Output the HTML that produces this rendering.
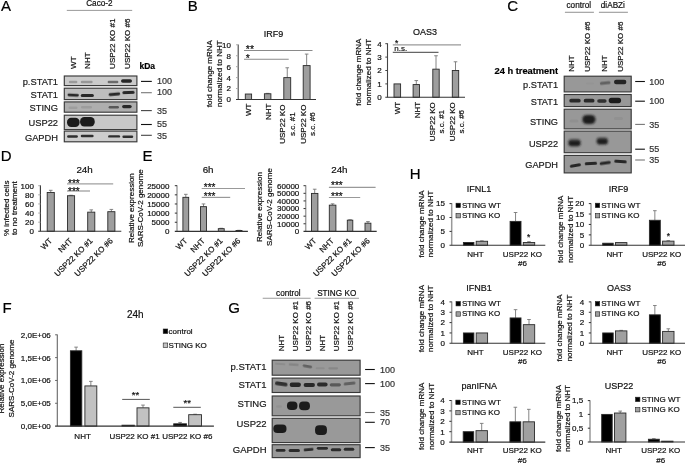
<!DOCTYPE html>
<html><head><meta charset="utf-8"><title>Figure</title>
<style>
html,body{margin:0;padding:0;background:#fff;}
body{width:685px;height:464px;overflow:hidden;}
svg{display:block;font-family:'Liberation Sans', Arial, sans-serif;}
text{stroke:currentColor;stroke-width:0.2px;}
</style></head><body>
<svg width="685" height="464" viewBox="0 0 685 464">
<defs>
<filter id="b3" x="-50%" y="-100%" width="200%" height="300%"><feGaussianBlur stdDeviation="0.3"/></filter>
<filter id="b4" x="-50%" y="-100%" width="200%" height="300%"><feGaussianBlur stdDeviation="0.4"/></filter>
<filter id="b5" x="-50%" y="-100%" width="200%" height="300%"><feGaussianBlur stdDeviation="0.5"/></filter>
<filter id="b6" x="-50%" y="-100%" width="200%" height="300%"><feGaussianBlur stdDeviation="0.6"/></filter>
<filter id="b7" x="-50%" y="-100%" width="200%" height="300%"><feGaussianBlur stdDeviation="0.7"/></filter>
<filter id="b8" x="-50%" y="-100%" width="200%" height="300%"><feGaussianBlur stdDeviation="0.8"/></filter>
<filter id="b9" x="-50%" y="-100%" width="200%" height="300%"><feGaussianBlur stdDeviation="0.9"/></filter>
<filter id="b10" x="-50%" y="-100%" width="200%" height="300%"><feGaussianBlur stdDeviation="1.0"/></filter>
<filter id="b11" x="-50%" y="-100%" width="200%" height="300%"><feGaussianBlur stdDeviation="1.1"/></filter>
<filter id="b12" x="-50%" y="-100%" width="200%" height="300%"><feGaussianBlur stdDeviation="1.2"/></filter>
<filter id="b13" x="-50%" y="-100%" width="200%" height="300%"><feGaussianBlur stdDeviation="1.3"/></filter>
<filter id="b14" x="-50%" y="-100%" width="200%" height="300%"><feGaussianBlur stdDeviation="1.4"/></filter>
<filter id="b15" x="-50%" y="-100%" width="200%" height="300%"><feGaussianBlur stdDeviation="1.5"/></filter>
</defs>
<rect width="685" height="464" fill="#fff"/>
<text x="1.00" y="10.70" font-size="15" fill="#000" color="#000">A</text>
<text x="187.70" y="10.70" font-size="15" fill="#000" color="#000">B</text>
<text x="507.30" y="10.70" font-size="15" fill="#000" color="#000">C</text>
<text x="0.80" y="160.70" font-size="15" fill="#000" color="#000">D</text>
<text x="142.50" y="160.70" font-size="15" fill="#000" color="#000">E</text>
<text x="2.40" y="312.70" font-size="15" fill="#000" color="#000">F</text>
<text x="228.20" y="312.70" font-size="15" fill="#000" color="#000">G</text>
<text x="409.80" y="179.30" font-size="15" fill="#000" color="#000">H</text>
<text x="86.20" y="6.00" font-size="8.2" fill="#111" color="#111">Caco-2</text>
<line x1="66.80" y1="10.40" x2="132.20" y2="10.40" stroke="#9a9a9a" stroke-width="1"/>
<text transform="translate(75.60,68.90) rotate(-90)" font-size="8" fill="#111" color="#111">WT</text>
<text transform="translate(89.90,68.90) rotate(-90)" font-size="8" fill="#111" color="#111">NHT</text>
<text transform="translate(115.40,68.90) rotate(-90)" font-size="8" fill="#111" color="#111">USP22 KO #1</text>
<text transform="translate(130.20,68.90) rotate(-90)" font-size="8" fill="#111" color="#111">USP22 KO #6</text>
<text x="139.50" y="69.00" font-size="8.5" font-weight="bold" fill="#000" color="#000">kDa</text>
<text x="58.00" y="84.70" font-size="9.3" text-anchor="end" fill="#1a1a1a" color="#1a1a1a">p.STAT1</text>
<rect x="64.30" y="76.00" width="72.60" height="9.60" fill="#cbcbcb"/>
<rect x="68.80" y="80.80" width="8.60" height="2.40" rx="1.20" fill="rgb(77,77,77)" opacity="0.38" filter="url(#b6)"/>
<rect x="80.75" y="80.80" width="11.90" height="2.40" rx="1.20" fill="rgb(75,75,75)" opacity="0.40" filter="url(#b6)"/>
<rect x="107.60" y="80.70" width="10.80" height="2.60" rx="1.30" fill="rgb(56,56,56)" opacity="0.65" filter="url(#b6)"/>
<rect x="121.00" y="79.20" width="11.00" height="3.60" rx="1.80" fill="rgb(32,32,32)" opacity="0.97" filter="url(#b6)"/>
<rect x="64.30" y="76.00" width="72.60" height="9.60" fill="none" stroke="#383838" stroke-width="1.15"/>
<text x="58.00" y="98.30" font-size="9.3" text-anchor="end" fill="#1a1a1a" color="#1a1a1a">STAT1</text>
<rect x="64.30" y="88.20" width="72.60" height="11.40" fill="#bebebe"/>
<rect x="67.50" y="93.65" width="11.40" height="2.90" rx="1.45" fill="rgb(33,33,33)" opacity="0.95" filter="url(#b6)" transform="rotate(3 73.20 95.10)"/>
<rect x="80.75" y="94.10" width="13.10" height="3.00" rx="1.50" fill="rgb(33,33,33)" opacity="0.95" filter="url(#b6)"/>
<rect x="108.70" y="92.75" width="11.40" height="2.90" rx="1.45" fill="rgb(33,33,33)" opacity="0.95" filter="url(#b6)" transform="rotate(-5 114.40 94.20)"/>
<rect x="122.35" y="91.00" width="12.30" height="3.00" rx="1.50" fill="rgb(33,33,33)" opacity="0.95" filter="url(#b6)" transform="rotate(-2 128.50 92.50)"/>
<rect x="64.30" y="88.20" width="72.60" height="11.40" fill="none" stroke="#383838" stroke-width="1.15"/>
<text x="58.00" y="110.70" font-size="9.3" text-anchor="end" fill="#1a1a1a" color="#1a1a1a">STING</text>
<rect x="64.30" y="101.90" width="72.60" height="10.30" fill="#aeaeae"/>
<rect x="68.50" y="106.60" width="9.00" height="2.40" rx="1.20" fill="rgb(92,92,92)" opacity="0.18" filter="url(#b6)"/>
<rect x="81.00" y="106.10" width="11.00" height="2.40" rx="1.20" fill="rgb(91,91,91)" opacity="0.20" filter="url(#b6)"/>
<rect x="108.65" y="106.10" width="10.30" height="2.40" rx="1.20" fill="rgb(52,52,52)" opacity="0.70" filter="url(#b6)"/>
<rect x="122.10" y="104.90" width="9.60" height="3.40" rx="1.70" fill="rgb(33,33,33)" opacity="0.95" filter="url(#b6)"/>
<rect x="64.30" y="101.90" width="72.60" height="10.30" fill="none" stroke="#383838" stroke-width="1.15"/>
<text x="58.00" y="125.60" font-size="9.3" text-anchor="end" fill="#1a1a1a" color="#1a1a1a">USP22</text>
<rect x="64.30" y="115.20" width="72.60" height="14.40" fill="#c8c8c8"/>
<rect x="67.00" y="117.70" width="12.60" height="9.20" rx="4.20" fill="rgb(30,30,30)" opacity="1.00" filter="url(#b6)"/>
<rect x="80.10" y="117.10" width="14.60" height="9.40" rx="4.20" fill="rgb(30,30,30)" opacity="1.00" filter="url(#b6)"/>
<rect x="64.30" y="115.20" width="72.60" height="14.40" fill="none" stroke="#383838" stroke-width="1.15"/>
<text x="58.00" y="140.60" font-size="9.3" text-anchor="end" fill="#1a1a1a" color="#1a1a1a">GAPDH</text>
<rect x="64.30" y="131.10" width="72.60" height="10.70" fill="#cdcdcd"/>
<rect x="67.10" y="135.30" width="10.80" height="2.40" rx="1.20" fill="rgb(36,36,36)" opacity="0.92" filter="url(#b6)"/>
<rect x="80.75" y="134.65" width="12.90" height="2.50" rx="1.25" fill="rgb(36,36,36)" opacity="0.92" filter="url(#b6)"/>
<rect x="108.10" y="135.20" width="12.00" height="2.40" rx="1.20" fill="rgb(36,36,36)" opacity="0.92" filter="url(#b6)"/>
<rect x="122.40" y="135.60" width="10.80" height="2.40" rx="1.20" fill="rgb(36,36,36)" opacity="0.92" filter="url(#b6)"/>
<rect x="64.30" y="131.10" width="72.60" height="10.70" fill="none" stroke="#383838" stroke-width="1.15"/>
<line x1="141.00" y1="81.40" x2="151.80" y2="81.40" stroke="#111" stroke-width="1.1"/>
<text x="157.00" y="84.30" font-size="9" fill="#333" color="#333">100</text>
<line x1="141.00" y1="92.70" x2="151.80" y2="92.70" stroke="#777" stroke-width="1.1"/>
<text x="157.00" y="95.30" font-size="9" fill="#333" color="#333">100</text>
<line x1="141.00" y1="110.60" x2="151.80" y2="110.60" stroke="#444" stroke-width="1.1"/>
<text x="157.00" y="113.80" font-size="9" fill="#333" color="#333">35</text>
<line x1="141.00" y1="124.50" x2="151.80" y2="124.50" stroke="#111" stroke-width="1.1"/>
<text x="157.00" y="127.30" font-size="9" fill="#333" color="#333">55</text>
<line x1="141.00" y1="135.30" x2="151.80" y2="135.30" stroke="#444" stroke-width="1.1"/>
<text x="157.00" y="139.40" font-size="9" fill="#333" color="#333">35</text>
<text x="566.50" y="7.90" font-size="8.2" fill="#111" color="#111">control</text>
<text x="600.80" y="7.90" font-size="8.2" fill="#111" color="#111">diABZi</text>
<line x1="564.90" y1="12.30" x2="593.90" y2="12.30" stroke="#9a9a9a" stroke-width="1.1"/>
<line x1="598.90" y1="12.30" x2="627.90" y2="12.30" stroke="#9a9a9a" stroke-width="1.1"/>
<text transform="translate(574.40,71.80) rotate(-90)" font-size="8" fill="#111" color="#111">NHT</text>
<text transform="translate(590.00,71.80) rotate(-90)" font-size="8" fill="#111" color="#111">USP22 KO #6</text>
<text transform="translate(606.70,71.80) rotate(-90)" font-size="8" fill="#111" color="#111">NHT</text>
<text transform="translate(623.00,71.80) rotate(-90)" font-size="8" fill="#111" color="#111">USP22 KO #6</text>
<text x="494.50" y="74.30" font-size="9.3" font-weight="bold" fill="#000" color="#000">24 h treatment</text>
<text x="558.00" y="88.00" font-size="9.2" text-anchor="end" fill="#1a1a1a" color="#1a1a1a">p.STAT1</text>
<rect x="564.20" y="76.20" width="67.00" height="15.70" fill="#989898"/>
<rect x="586.00" y="82.40" width="8.00" height="2.20" rx="1.10" fill="rgb(101,101,101)" opacity="0.07" filter="url(#b6)"/>
<rect x="599.90" y="81.50" width="10.60" height="3.00" rx="1.50" fill="rgb(60,60,60)" opacity="0.60" filter="url(#b7)" transform="rotate(-6 605.20 83.00)"/>
<rect x="614.00" y="79.80" width="12.40" height="4.40" rx="2.20" fill="rgb(32,32,32)" opacity="0.97" filter="url(#b6)"/>
<rect x="564.20" y="76.20" width="67.00" height="15.70" fill="none" stroke="#383838" stroke-width="1.15"/>
<text x="558.00" y="104.60" font-size="9.2" text-anchor="end" fill="#1a1a1a" color="#1a1a1a">STAT1</text>
<rect x="564.20" y="94.50" width="67.00" height="12.10" fill="#989898"/>
<rect x="569.30" y="98.80" width="11.40" height="3.80" rx="1.90" fill="rgb(35,35,35)" opacity="0.93" filter="url(#b6)"/>
<rect x="583.70" y="98.80" width="10.80" height="3.80" rx="1.90" fill="rgb(35,35,35)" opacity="0.93" filter="url(#b6)"/>
<rect x="597.20" y="99.20" width="9.40" height="3.60" rx="1.80" fill="rgb(37,37,37)" opacity="0.90" filter="url(#b6)"/>
<rect x="608.70" y="97.80" width="12.40" height="5.40" rx="2.60" fill="rgb(30,30,30)" opacity="1.00" filter="url(#b6)"/>
<rect x="564.20" y="94.50" width="67.00" height="12.10" fill="none" stroke="#383838" stroke-width="1.15"/>
<text x="558.00" y="125.20" font-size="9.2" text-anchor="end" fill="#1a1a1a" color="#1a1a1a">STING</text>
<rect x="564.20" y="109.20" width="67.00" height="19.70" fill="#989898"/>
<rect x="569.50" y="119.40" width="9.00" height="3.20" rx="1.60" fill="rgb(96,96,96)" opacity="0.13" filter="url(#b6)"/>
<rect x="582.40" y="114.90" width="13.00" height="9.20" rx="4.20" fill="rgb(30,30,30)" opacity="1.00" filter="url(#b8)"/>
<rect x="614.00" y="116.90" width="9.00" height="3.20" rx="1.60" fill="rgb(97,97,97)" opacity="0.12" filter="url(#b6)"/>
<rect x="564.20" y="109.20" width="67.00" height="19.70" fill="none" stroke="#383838" stroke-width="1.15"/>
<text x="558.00" y="146.90" font-size="9.2" text-anchor="end" fill="#1a1a1a" color="#1a1a1a">USP22</text>
<rect x="564.20" y="131.10" width="67.00" height="21.60" fill="#989898"/>
<rect x="568.40" y="139.70" width="12.20" height="6.60" rx="3.00" fill="rgb(30,30,30)" opacity="1.00" filter="url(#b8)"/>
<rect x="596.70" y="137.90" width="11.20" height="6.60" rx="3.00" fill="rgb(30,30,30)" opacity="1.00" filter="url(#b8)"/>
<rect x="569.00" y="138.50" width="11.00" height="3.00" rx="1.50" fill="rgb(83,83,83)" opacity="0.30" filter="url(#b10)"/>
<rect x="597.30" y="137.00" width="10.00" height="3.00" rx="1.50" fill="rgb(83,83,83)" opacity="0.30" filter="url(#b10)"/>
<rect x="564.20" y="131.10" width="67.00" height="21.60" fill="none" stroke="#383838" stroke-width="1.15"/>
<text x="558.00" y="167.90" font-size="9.2" text-anchor="end" fill="#1a1a1a" color="#1a1a1a">GAPDH</text>
<rect x="564.20" y="155.40" width="67.00" height="17.50" fill="#989898"/>
<rect x="569.85" y="164.10" width="11.10" height="3.00" rx="1.50" fill="rgb(33,33,33)" opacity="0.95" filter="url(#b6)" transform="rotate(-10 575.40 165.60)"/>
<rect x="584.75" y="162.00" width="12.30" height="3.00" rx="1.50" fill="rgb(33,33,33)" opacity="0.95" filter="url(#b6)" transform="rotate(-3 590.90 163.50)"/>
<rect x="599.65" y="161.50" width="11.10" height="3.00" rx="1.50" fill="rgb(33,33,33)" opacity="0.95" filter="url(#b6)" transform="rotate(-8 605.20 163.00)"/>
<rect x="614.25" y="159.90" width="12.50" height="3.00" rx="1.50" fill="rgb(33,33,33)" opacity="0.95" filter="url(#b6)" transform="rotate(4 620.50 161.40)"/>
<rect x="564.20" y="155.40" width="67.00" height="17.50" fill="none" stroke="#383838" stroke-width="1.15"/>
<line x1="635.20" y1="81.50" x2="644.90" y2="81.50" stroke="#111" stroke-width="1.1"/>
<text x="649.30" y="84.70" font-size="9" fill="#333" color="#333">100</text>
<line x1="635.20" y1="101.20" x2="644.90" y2="101.20" stroke="#111" stroke-width="1.1"/>
<text x="649.30" y="104.40" font-size="9" fill="#333" color="#333">100</text>
<line x1="635.20" y1="124.40" x2="644.90" y2="124.40" stroke="#777" stroke-width="1.1"/>
<text x="649.30" y="127.60" font-size="9" fill="#333" color="#333">35</text>
<line x1="635.20" y1="149.20" x2="644.90" y2="149.20" stroke="#111" stroke-width="1.1"/>
<text x="649.30" y="152.40" font-size="9" fill="#333" color="#333">55</text>
<line x1="635.20" y1="160.00" x2="644.90" y2="160.00" stroke="#777" stroke-width="1.1"/>
<text x="649.30" y="163.20" font-size="9" fill="#333" color="#333">35</text>
<text x="288.40" y="295.80" font-size="8.2" text-anchor="middle" fill="#111" color="#111">control</text>
<text x="336.70" y="295.80" font-size="8.2" text-anchor="middle" fill="#111" color="#111">STING KO</text>
<line x1="262.70" y1="298.20" x2="310.60" y2="298.20" stroke="#9a9a9a" stroke-width="1.1"/>
<line x1="314.60" y1="298.20" x2="359.00" y2="298.20" stroke="#9a9a9a" stroke-width="1.1"/>
<text transform="translate(284.20,351.20) rotate(-90)" font-size="8" fill="#111" color="#111">NHT</text>
<text transform="translate(298.30,351.20) rotate(-90)" font-size="8" fill="#111" color="#111">USP22 KO #1</text>
<text transform="translate(311.10,351.20) rotate(-90)" font-size="8" fill="#111" color="#111">USP22 KO #6</text>
<text transform="translate(325.10,351.20) rotate(-90)" font-size="8" fill="#111" color="#111">NHT</text>
<text transform="translate(339.10,351.20) rotate(-90)" font-size="8" fill="#111" color="#111">USP22 KO #1</text>
<text transform="translate(353.10,351.20) rotate(-90)" font-size="8" fill="#111" color="#111">USP22 KO #6</text>
<text x="266.60" y="369.90" font-size="9.5" text-anchor="end" fill="#1a1a1a" color="#1a1a1a">p.STAT1</text>
<rect x="272.20" y="360.20" width="87.90" height="15.00" fill="#999999"/>
<rect x="274.95" y="363.10" width="10.50" height="2.00" rx="1.00" fill="rgb(91,91,91)" opacity="0.20" filter="url(#b6)" transform="rotate(4 280.20 364.10)"/>
<rect x="288.70" y="363.60" width="10.00" height="2.20" rx="1.10" fill="rgb(83,83,83)" opacity="0.30" filter="url(#b6)" transform="rotate(4 293.70 364.70)"/>
<rect x="302.75" y="364.90" width="9.30" height="2.80" rx="1.40" fill="rgb(60,60,60)" opacity="0.60" filter="url(#b6)" transform="rotate(10 307.40 366.30)"/>
<rect x="315.70" y="367.30" width="9.00" height="2.00" rx="1.00" fill="rgb(92,92,92)" opacity="0.18" filter="url(#b6)"/>
<rect x="328.30" y="367.20" width="9.80" height="2.20" rx="1.10" fill="rgb(87,87,87)" opacity="0.25" filter="url(#b6)"/>
<rect x="272.20" y="360.20" width="87.90" height="15.00" fill="none" stroke="#383838" stroke-width="1.15"/>
<text x="266.60" y="388.20" font-size="9.5" text-anchor="end" fill="#1a1a1a" color="#1a1a1a">STAT1</text>
<rect x="272.20" y="378.10" width="87.90" height="14.40" fill="#999999"/>
<rect x="275.00" y="382.00" width="12.60" height="3.80" rx="1.90" fill="rgb(37,37,37)" opacity="0.90" filter="url(#b7)" transform="rotate(8 281.30 383.90)"/>
<rect x="289.70" y="382.50" width="11.20" height="4.40" rx="2.20" fill="rgb(32,32,32)" opacity="0.97" filter="url(#b7)"/>
<rect x="303.65" y="383.10" width="11.30" height="3.80" rx="1.90" fill="rgb(33,33,33)" opacity="0.95" filter="url(#b7)"/>
<rect x="317.00" y="382.50" width="10.60" height="4.00" rx="2.00" fill="rgb(36,36,36)" opacity="0.92" filter="url(#b7)"/>
<rect x="329.70" y="383.20" width="11.20" height="3.20" rx="1.60" fill="rgb(56,56,56)" opacity="0.65" filter="url(#b7)"/>
<rect x="343.65" y="381.90" width="11.90" height="3.20" rx="1.60" fill="rgb(60,60,60)" opacity="0.60" filter="url(#b7)" transform="rotate(-6 349.60 383.50)"/>
<rect x="272.20" y="378.10" width="87.90" height="14.40" fill="none" stroke="#383838" stroke-width="1.15"/>
<text x="266.60" y="407.40" font-size="9.5" text-anchor="end" fill="#1a1a1a" color="#1a1a1a">STING</text>
<rect x="272.20" y="396.00" width="87.90" height="19.80" fill="#999999"/>
<rect x="276.00" y="405.30" width="6.00" height="2.40" rx="1.20" fill="rgb(97,97,97)" opacity="0.12" filter="url(#b6)"/>
<rect x="286.95" y="401.60" width="10.50" height="8.40" rx="4.00" fill="rgb(30,30,30)" opacity="1.00" filter="url(#b6)"/>
<rect x="299.05" y="401.40" width="10.90" height="8.80" rx="4.00" fill="rgb(30,30,30)" opacity="1.00" filter="url(#b6)"/>
<rect x="272.20" y="396.00" width="87.90" height="19.80" fill="none" stroke="#383838" stroke-width="1.15"/>
<text x="266.60" y="427.40" font-size="9.5" text-anchor="end" fill="#1a1a1a" color="#1a1a1a">USP22</text>
<rect x="272.20" y="418.30" width="87.90" height="24.30" fill="#999999"/>
<rect x="273.30" y="424.50" width="13.20" height="8.40" rx="4.00" fill="rgb(30,30,30)" opacity="1.00" filter="url(#b7)"/>
<rect x="315.05" y="425.30" width="11.90" height="9.60" rx="4.00" fill="rgb(30,30,30)" opacity="1.00" filter="url(#b7)"/>
<rect x="272.20" y="418.30" width="87.90" height="24.30" fill="none" stroke="#383838" stroke-width="1.15"/>
<text x="266.60" y="453.10" font-size="9.5" text-anchor="end" fill="#1a1a1a" color="#1a1a1a">GAPDH</text>
<rect x="272.20" y="444.70" width="87.90" height="12.90" fill="#999999"/>
<rect x="275.70" y="449.00" width="9.80" height="2.80" rx="1.40" fill="rgb(36,36,36)" opacity="0.92" filter="url(#b6)"/>
<rect x="288.65" y="448.90" width="11.30" height="3.00" rx="1.50" fill="rgb(36,36,36)" opacity="0.92" filter="url(#b6)"/>
<rect x="303.65" y="448.30" width="9.90" height="2.80" rx="1.40" fill="rgb(36,36,36)" opacity="0.92" filter="url(#b6)" transform="rotate(-5 308.60 449.70)"/>
<rect x="316.80" y="446.90" width="11.20" height="2.80" rx="1.40" fill="rgb(36,36,36)" opacity="0.92" filter="url(#b6)"/>
<rect x="330.80" y="448.20" width="10.40" height="3.00" rx="1.50" fill="rgb(36,36,36)" opacity="0.92" filter="url(#b6)"/>
<rect x="343.75" y="447.80" width="10.50" height="3.00" rx="1.50" fill="rgb(36,36,36)" opacity="0.92" filter="url(#b6)"/>
<rect x="272.20" y="444.70" width="87.90" height="12.90" fill="none" stroke="#383838" stroke-width="1.15"/>
<line x1="365.10" y1="369.50" x2="374.80" y2="369.50" stroke="#111" stroke-width="1.1"/>
<text x="380.00" y="373.20" font-size="9" fill="#333" color="#333">100</text>
<line x1="365.10" y1="383.60" x2="374.80" y2="383.60" stroke="#111" stroke-width="1.1"/>
<text x="380.00" y="387.00" font-size="9" fill="#333" color="#333">100</text>
<line x1="365.10" y1="412.50" x2="374.80" y2="412.50" stroke="#666" stroke-width="1.1"/>
<text x="380.00" y="415.60" font-size="9" fill="#333" color="#333">35</text>
<line x1="365.10" y1="422.30" x2="374.80" y2="422.30" stroke="#111" stroke-width="1.1"/>
<text x="380.00" y="425.30" font-size="9" fill="#333" color="#333">70</text>
<line x1="365.10" y1="447.60" x2="374.80" y2="447.60" stroke="#111" stroke-width="1.1"/>
<text x="380.00" y="450.80" font-size="9" fill="#333" color="#333">35</text>
<text x="273.50" y="37.20" font-size="9" text-anchor="middle" fill="#111" color="#111">IRF9</text>
<text transform="translate(211.90,73.65) rotate(-90)" font-size="8" text-anchor="middle" fill="#111" color="#111">fold change mRNA</text>
<text transform="translate(221.60,73.65) rotate(-90)" font-size="8" text-anchor="middle" fill="#111" color="#111">normalized to NHT</text>
<rect x="245.30" y="94.03" width="6.30" height="5.47" fill="#9e9e9e" stroke="#2a2a2a" stroke-width="0.9"/>
<line x1="267.65" y1="93.37" x2="267.65" y2="93.76" stroke="#777" stroke-width="0.9"/>
<line x1="265.85" y1="93.37" x2="269.45" y2="93.37" stroke="#777" stroke-width="0.9"/>
<rect x="264.40" y="93.76" width="6.50" height="5.74" fill="#9e9e9e" stroke="#2a2a2a" stroke-width="0.9"/>
<line x1="287.25" y1="67.77" x2="287.25" y2="77.62" stroke="#777" stroke-width="0.9"/>
<line x1="285.45" y1="67.77" x2="289.05" y2="67.77" stroke="#777" stroke-width="0.9"/>
<rect x="283.80" y="77.62" width="6.90" height="21.88" fill="#9e9e9e" stroke="#2a2a2a" stroke-width="0.9"/>
<line x1="306.65" y1="54.10" x2="306.65" y2="65.59" stroke="#777" stroke-width="0.9"/>
<line x1="304.85" y1="54.10" x2="308.45" y2="54.10" stroke="#777" stroke-width="0.9"/>
<rect x="303.20" y="65.59" width="6.90" height="33.91" fill="#9e9e9e" stroke="#2a2a2a" stroke-width="0.9"/>
<line x1="238.20" y1="44.40" x2="238.20" y2="99.50" stroke="#444" stroke-width="1.1"/>
<line x1="236.00" y1="99.50" x2="316.00" y2="99.50" stroke="#333" stroke-width="1.1"/>
<text x="231.00" y="102.38" font-size="8" text-anchor="end" fill="#111" color="#111">0</text>
<line x1="236.00" y1="88.56" x2="238.20" y2="88.56" stroke="#aaa" stroke-width="1"/>
<text x="231.00" y="91.44" font-size="8" text-anchor="end" fill="#111" color="#111">2</text>
<line x1="236.00" y1="77.62" x2="238.20" y2="77.62" stroke="#aaa" stroke-width="1"/>
<text x="231.00" y="80.50" font-size="8" text-anchor="end" fill="#111" color="#111">4</text>
<line x1="236.00" y1="66.68" x2="238.20" y2="66.68" stroke="#aaa" stroke-width="1"/>
<text x="231.00" y="69.56" font-size="8" text-anchor="end" fill="#111" color="#111">6</text>
<line x1="236.00" y1="55.74" x2="238.20" y2="55.74" stroke="#aaa" stroke-width="1"/>
<text x="231.00" y="58.62" font-size="8" text-anchor="end" fill="#111" color="#111">8</text>
<line x1="236.00" y1="44.80" x2="238.20" y2="44.80" stroke="#aaa" stroke-width="1"/>
<text x="231.00" y="47.68" font-size="8" text-anchor="end" fill="#111" color="#111">10</text>
<line x1="244.00" y1="50.50" x2="312.50" y2="50.50" stroke="#8a8a8a" stroke-width="1.1"/>
<text x="245.80" y="53.00" font-size="10.5" fill="#111" color="#111">**</text>
<line x1="244.00" y1="59.30" x2="288.70" y2="59.30" stroke="#8a8a8a" stroke-width="1.1"/>
<text x="245.80" y="62.20" font-size="10.5" fill="#111" color="#111">*</text>
<text transform="translate(251.30,103.60) rotate(-90)" font-size="8" text-anchor="end" fill="#111" color="#111">WT</text>
<text transform="translate(270.70,103.60) rotate(-90)" font-size="8" text-anchor="end" fill="#111" color="#111">NHT</text>
<text transform="translate(285.00,124.20) rotate(-90)" font-size="8" text-anchor="middle" fill="#111" color="#111">USP22 KO</text>
<text transform="translate(295.30,124.20) rotate(-90)" font-size="8" text-anchor="middle" fill="#111" color="#111">s.c. #1</text>
<text transform="translate(305.50,124.20) rotate(-90)" font-size="8" text-anchor="middle" fill="#111" color="#111">USP22 KO</text>
<text transform="translate(314.70,124.20) rotate(-90)" font-size="8" text-anchor="middle" fill="#111" color="#111">s.c. #6</text>
<text x="424.90" y="35.00" font-size="9" text-anchor="middle" fill="#111" color="#111">OAS3</text>
<text transform="translate(361.00,72.15) rotate(-90)" font-size="8" text-anchor="middle" fill="#111" color="#111">fold change mRNA</text>
<text transform="translate(371.00,72.15) rotate(-90)" font-size="8" text-anchor="middle" fill="#111" color="#111">normalized to NHT</text>
<rect x="394.00" y="83.90" width="6.60" height="13.40" fill="#9e9e9e" stroke="#2a2a2a" stroke-width="0.9"/>
<line x1="416.30" y1="80.55" x2="416.30" y2="84.57" stroke="#777" stroke-width="0.9"/>
<line x1="414.50" y1="80.55" x2="418.10" y2="80.55" stroke="#777" stroke-width="0.9"/>
<rect x="413.10" y="84.57" width="6.40" height="12.73" fill="#9e9e9e" stroke="#2a2a2a" stroke-width="0.9"/>
<line x1="436.00" y1="55.76" x2="436.00" y2="69.16" stroke="#777" stroke-width="0.9"/>
<line x1="434.20" y1="55.76" x2="437.80" y2="55.76" stroke="#777" stroke-width="0.9"/>
<rect x="432.80" y="69.16" width="6.40" height="28.14" fill="#9e9e9e" stroke="#2a2a2a" stroke-width="0.9"/>
<line x1="455.50" y1="61.79" x2="455.50" y2="70.50" stroke="#777" stroke-width="0.9"/>
<line x1="453.70" y1="61.79" x2="457.30" y2="61.79" stroke="#777" stroke-width="0.9"/>
<rect x="452.30" y="70.50" width="6.40" height="26.80" fill="#9e9e9e" stroke="#2a2a2a" stroke-width="0.9"/>
<line x1="387.50" y1="43.30" x2="387.50" y2="97.30" stroke="#444" stroke-width="1.1"/>
<line x1="385.30" y1="97.30" x2="465.00" y2="97.30" stroke="#333" stroke-width="1.1"/>
<text x="381.80" y="100.18" font-size="8" text-anchor="end" fill="#111" color="#111">0</text>
<line x1="385.30" y1="83.90" x2="387.50" y2="83.90" stroke="#444" stroke-width="1"/>
<text x="381.80" y="86.78" font-size="8" text-anchor="end" fill="#111" color="#111">1</text>
<line x1="385.30" y1="70.50" x2="387.50" y2="70.50" stroke="#444" stroke-width="1"/>
<text x="381.80" y="73.38" font-size="8" text-anchor="end" fill="#111" color="#111">2</text>
<line x1="385.30" y1="57.10" x2="387.50" y2="57.10" stroke="#444" stroke-width="1"/>
<text x="381.80" y="59.98" font-size="8" text-anchor="end" fill="#111" color="#111">3</text>
<line x1="385.30" y1="43.70" x2="387.50" y2="43.70" stroke="#444" stroke-width="1"/>
<text x="381.80" y="46.58" font-size="8" text-anchor="end" fill="#111" color="#111">4</text>
<line x1="392.80" y1="44.90" x2="461.00" y2="44.90" stroke="#9a9a9a" stroke-width="1.1"/>
<text x="395.00" y="45.60" font-size="8.5" fill="#111" color="#111">*</text>
<line x1="392.80" y1="52.40" x2="438.50" y2="52.40" stroke="#666" stroke-width="1.1"/>
<text x="394.30" y="51.20" font-size="8" fill="#111" color="#111">n.s.</text>
<text transform="translate(400.10,101.80) rotate(-90)" font-size="8" text-anchor="end" fill="#111" color="#111">WT</text>
<text transform="translate(419.80,101.80) rotate(-90)" font-size="8" text-anchor="end" fill="#111" color="#111">NHT</text>
<text transform="translate(435.10,121.75) rotate(-90)" font-size="8" text-anchor="middle" fill="#111" color="#111">USP22 KO</text>
<text transform="translate(443.90,121.75) rotate(-90)" font-size="8" text-anchor="middle" fill="#111" color="#111">s.c. #1</text>
<text transform="translate(454.80,121.75) rotate(-90)" font-size="8" text-anchor="middle" fill="#111" color="#111">USP22 KO</text>
<text transform="translate(463.60,121.75) rotate(-90)" font-size="8" text-anchor="middle" fill="#111" color="#111">s.c. #6</text>
<text x="84.60" y="172.80" font-size="9.8" text-anchor="middle" fill="#111" color="#111">24h</text>
<text transform="translate(8.60,208.20) rotate(-90)" font-size="8" text-anchor="middle" fill="#111" color="#111">% infected cells</text>
<text transform="translate(17.40,208.20) rotate(-90)" font-size="8" text-anchor="middle" fill="#111" color="#111">to no treatment</text>
<line x1="50.75" y1="190.31" x2="50.75" y2="192.49" stroke="#777" stroke-width="0.9"/>
<line x1="48.95" y1="190.31" x2="52.55" y2="190.31" stroke="#777" stroke-width="0.9"/>
<rect x="47.20" y="192.49" width="7.10" height="38.81" fill="#9e9e9e" stroke="#2a2a2a" stroke-width="0.9"/>
<line x1="71.05" y1="195.28" x2="71.05" y2="195.73" stroke="#777" stroke-width="0.9"/>
<line x1="69.25" y1="195.28" x2="72.85" y2="195.28" stroke="#777" stroke-width="0.9"/>
<rect x="67.50" y="195.73" width="7.10" height="35.57" fill="#9e9e9e" stroke="#2a2a2a" stroke-width="0.9"/>
<line x1="91.25" y1="209.87" x2="91.25" y2="212.15" stroke="#777" stroke-width="0.9"/>
<line x1="89.45" y1="209.87" x2="93.05" y2="209.87" stroke="#777" stroke-width="0.9"/>
<rect x="87.70" y="212.15" width="7.10" height="19.15" fill="#9e9e9e" stroke="#2a2a2a" stroke-width="0.9"/>
<line x1="111.35" y1="209.41" x2="111.35" y2="211.69" stroke="#777" stroke-width="0.9"/>
<line x1="109.55" y1="209.41" x2="113.15" y2="209.41" stroke="#777" stroke-width="0.9"/>
<rect x="107.80" y="211.69" width="7.10" height="19.61" fill="#9e9e9e" stroke="#2a2a2a" stroke-width="0.9"/>
<line x1="40.40" y1="185.30" x2="40.40" y2="231.30" stroke="#333" stroke-width="1.1"/>
<line x1="38.20" y1="231.30" x2="121.30" y2="231.30" stroke="#333" stroke-width="1.1"/>
<text x="33.90" y="234.18" font-size="8" text-anchor="end" fill="#111" color="#111">0</text>
<line x1="38.20" y1="222.18" x2="40.40" y2="222.18" stroke="#aaa" stroke-width="1"/>
<text x="33.90" y="225.06" font-size="8" text-anchor="end" fill="#111" color="#111">20</text>
<line x1="38.20" y1="213.06" x2="40.40" y2="213.06" stroke="#aaa" stroke-width="1"/>
<text x="33.90" y="215.94" font-size="8" text-anchor="end" fill="#111" color="#111">40</text>
<line x1="38.20" y1="203.94" x2="40.40" y2="203.94" stroke="#aaa" stroke-width="1"/>
<text x="33.90" y="206.82" font-size="8" text-anchor="end" fill="#111" color="#111">60</text>
<line x1="38.20" y1="194.82" x2="40.40" y2="194.82" stroke="#aaa" stroke-width="1"/>
<text x="33.90" y="197.70" font-size="8" text-anchor="end" fill="#111" color="#111">80</text>
<line x1="38.20" y1="185.70" x2="40.40" y2="185.70" stroke="#aaa" stroke-width="1"/>
<text x="33.90" y="188.58" font-size="8" text-anchor="end" fill="#111" color="#111">100</text>
<line x1="67.00" y1="183.80" x2="113.20" y2="183.80" stroke="#a0a0a0" stroke-width="1.3"/>
<text x="68.00" y="187.10" font-size="10" fill="#111" color="#111">***</text>
<line x1="67.00" y1="191.00" x2="90.00" y2="191.00" stroke="#a0a0a0" stroke-width="1.3"/>
<text x="68.00" y="194.50" font-size="10" fill="#111" color="#111">***</text>
<text transform="translate(52.75,241.40) rotate(-45)" font-size="8" text-anchor="end" fill="#111" color="#111">WT</text>
<text transform="translate(73.05,241.40) rotate(-45)" font-size="8" text-anchor="end" fill="#111" color="#111">NHT</text>
<text transform="translate(93.25,241.40) rotate(-45)" font-size="8" text-anchor="end" fill="#111" color="#111">USP22 KO #1</text>
<text transform="translate(113.35,241.40) rotate(-45)" font-size="8" text-anchor="end" fill="#111" color="#111">USP22 KO #6</text>
<text x="208.10" y="172.80" font-size="9.8" text-anchor="middle" fill="#111" color="#111">6h</text>
<text transform="translate(134.40,208.10) rotate(-90)" font-size="8" text-anchor="middle" fill="#111" color="#111">Relative expression</text>
<text transform="translate(142.70,208.10) rotate(-90)" font-size="8" text-anchor="middle" fill="#111" color="#111">SARS-CoV-2 genome</text>
<line x1="185.80" y1="194.32" x2="185.80" y2="197.33" stroke="#777" stroke-width="0.9"/>
<line x1="184.00" y1="194.32" x2="187.60" y2="194.32" stroke="#777" stroke-width="0.9"/>
<rect x="182.90" y="197.33" width="5.80" height="34.07" fill="#9e9e9e" stroke="#2a2a2a" stroke-width="0.9"/>
<line x1="203.50" y1="203.94" x2="203.50" y2="206.65" stroke="#777" stroke-width="0.9"/>
<line x1="201.70" y1="203.94" x2="205.30" y2="203.94" stroke="#777" stroke-width="0.9"/>
<rect x="200.50" y="206.65" width="6.00" height="24.75" fill="#9e9e9e" stroke="#2a2a2a" stroke-width="0.9"/>
<line x1="221.25" y1="228.29" x2="221.25" y2="228.66" stroke="#777" stroke-width="0.9"/>
<line x1="219.45" y1="228.29" x2="223.05" y2="228.29" stroke="#777" stroke-width="0.9"/>
<rect x="218.30" y="228.66" width="5.90" height="2.74" fill="#9e9e9e" stroke="#2a2a2a" stroke-width="0.9"/>
<line x1="239.00" y1="230.30" x2="239.00" y2="230.49" stroke="#777" stroke-width="0.9"/>
<line x1="237.20" y1="230.30" x2="240.80" y2="230.30" stroke="#777" stroke-width="0.9"/>
<rect x="236.00" y="230.49" width="6.00" height="0.91" fill="#9e9e9e" stroke="#2a2a2a" stroke-width="0.9"/>
<line x1="177.00" y1="185.30" x2="177.00" y2="231.40" stroke="#a0a0a0" stroke-width="1.5"/>
<line x1="174.80" y1="231.40" x2="247.90" y2="231.40" stroke="#333" stroke-width="1.1"/>
<text x="169.40" y="234.28" font-size="8" text-anchor="end" fill="#111" color="#111">0</text>
<line x1="174.80" y1="222.26" x2="177.00" y2="222.26" stroke="#333" stroke-width="1"/>
<text x="169.40" y="225.14" font-size="8" text-anchor="end" fill="#111" color="#111">5000</text>
<line x1="174.80" y1="213.12" x2="177.00" y2="213.12" stroke="#333" stroke-width="1"/>
<text x="169.40" y="216.00" font-size="8" text-anchor="end" fill="#111" color="#111">10000</text>
<line x1="174.80" y1="203.98" x2="177.00" y2="203.98" stroke="#333" stroke-width="1"/>
<text x="169.40" y="206.86" font-size="8" text-anchor="end" fill="#111" color="#111">15000</text>
<line x1="174.80" y1="194.84" x2="177.00" y2="194.84" stroke="#333" stroke-width="1"/>
<text x="169.40" y="197.72" font-size="8" text-anchor="end" fill="#111" color="#111">20000</text>
<line x1="174.80" y1="185.70" x2="177.00" y2="185.70" stroke="#333" stroke-width="1"/>
<text x="169.40" y="188.58" font-size="8" text-anchor="end" fill="#111" color="#111">25000</text>
<line x1="201.70" y1="188.50" x2="245.00" y2="188.50" stroke="#999" stroke-width="1.2"/>
<text x="203.80" y="190.70" font-size="10" fill="#111" color="#111">***</text>
<line x1="201.70" y1="197.40" x2="230.20" y2="197.40" stroke="#999" stroke-width="1.2"/>
<text x="203.80" y="199.70" font-size="10" fill="#111" color="#111">***</text>
<text transform="translate(187.90,241.40) rotate(-45)" font-size="8" text-anchor="end" fill="#111" color="#111">WT</text>
<text transform="translate(205.50,241.40) rotate(-45)" font-size="8" text-anchor="end" fill="#111" color="#111">NHT</text>
<text transform="translate(223.25,241.40) rotate(-45)" font-size="8" text-anchor="end" fill="#111" color="#111">USP22 KO #1</text>
<text transform="translate(241.00,241.40) rotate(-45)" font-size="8" text-anchor="end" fill="#111" color="#111">USP22 KO #6</text>
<text x="339.40" y="172.60" font-size="9.8" text-anchor="middle" fill="#111" color="#111">24h</text>
<text transform="translate(262.30,207.00) rotate(-90)" font-size="8" text-anchor="middle" fill="#111" color="#111">Relative expression</text>
<text transform="translate(271.80,207.00) rotate(-90)" font-size="8" text-anchor="middle" fill="#111" color="#111">SARS-CoV-2 genome</text>
<line x1="314.70" y1="189.21" x2="314.70" y2="193.42" stroke="#777" stroke-width="0.9"/>
<line x1="312.90" y1="189.21" x2="316.50" y2="189.21" stroke="#777" stroke-width="0.9"/>
<rect x="311.50" y="193.42" width="6.40" height="37.98" fill="#9e9e9e" stroke="#2a2a2a" stroke-width="0.9"/>
<line x1="332.60" y1="203.84" x2="332.60" y2="205.15" stroke="#777" stroke-width="0.9"/>
<line x1="330.80" y1="203.84" x2="334.40" y2="203.84" stroke="#777" stroke-width="0.9"/>
<rect x="329.30" y="205.15" width="6.60" height="26.25" fill="#9e9e9e" stroke="#2a2a2a" stroke-width="0.9"/>
<line x1="350.05" y1="219.78" x2="350.05" y2="220.17" stroke="#777" stroke-width="0.9"/>
<line x1="348.25" y1="219.78" x2="351.85" y2="219.78" stroke="#777" stroke-width="0.9"/>
<rect x="347.30" y="220.17" width="5.50" height="11.23" fill="#9e9e9e" stroke="#2a2a2a" stroke-width="0.9"/>
<line x1="367.95" y1="221.58" x2="367.95" y2="223.18" stroke="#777" stroke-width="0.9"/>
<line x1="366.15" y1="221.58" x2="369.75" y2="221.58" stroke="#777" stroke-width="0.9"/>
<rect x="365.00" y="223.18" width="5.90" height="8.22" fill="#9e9e9e" stroke="#2a2a2a" stroke-width="0.9"/>
<line x1="305.70" y1="185.30" x2="305.70" y2="231.40" stroke="#a0a0a0" stroke-width="1.5"/>
<line x1="303.50" y1="231.40" x2="376.70" y2="231.40" stroke="#333" stroke-width="1.1"/>
<text x="299.30" y="234.28" font-size="8" text-anchor="end" fill="#111" color="#111">0</text>
<line x1="303.50" y1="223.78" x2="305.70" y2="223.78" stroke="#333" stroke-width="1"/>
<text x="299.30" y="226.66" font-size="8" text-anchor="end" fill="#111" color="#111">10000</text>
<line x1="303.50" y1="216.17" x2="305.70" y2="216.17" stroke="#333" stroke-width="1"/>
<text x="299.30" y="219.05" font-size="8" text-anchor="end" fill="#111" color="#111">20000</text>
<line x1="303.50" y1="208.55" x2="305.70" y2="208.55" stroke="#333" stroke-width="1"/>
<text x="299.30" y="211.43" font-size="8" text-anchor="end" fill="#111" color="#111">30000</text>
<line x1="303.50" y1="200.93" x2="305.70" y2="200.93" stroke="#333" stroke-width="1"/>
<text x="299.30" y="203.81" font-size="8" text-anchor="end" fill="#111" color="#111">40000</text>
<line x1="303.50" y1="193.32" x2="305.70" y2="193.32" stroke="#333" stroke-width="1"/>
<text x="299.30" y="196.20" font-size="8" text-anchor="end" fill="#111" color="#111">50000</text>
<line x1="303.50" y1="185.70" x2="305.70" y2="185.70" stroke="#333" stroke-width="1"/>
<text x="299.30" y="188.58" font-size="8" text-anchor="end" fill="#111" color="#111">60000</text>
<line x1="328.90" y1="187.30" x2="375.60" y2="187.30" stroke="#999" stroke-width="1.2"/>
<text x="331.00" y="189.40" font-size="10" fill="#111" color="#111">***</text>
<line x1="328.90" y1="197.50" x2="360.20" y2="197.50" stroke="#999" stroke-width="1.2"/>
<text x="331.00" y="200.00" font-size="10" fill="#111" color="#111">***</text>
<text transform="translate(317.00,241.40) rotate(-45)" font-size="8" text-anchor="end" fill="#111" color="#111">WT</text>
<text transform="translate(334.35,241.40) rotate(-45)" font-size="8" text-anchor="end" fill="#111" color="#111">NHT</text>
<text transform="translate(352.05,241.40) rotate(-45)" font-size="8" text-anchor="end" fill="#111" color="#111">USP22 KO #1</text>
<text transform="translate(370.35,241.40) rotate(-45)" font-size="8" text-anchor="end" fill="#111" color="#111">USP22 KO #6</text>
<text x="135.30" y="317.60" font-size="10" text-anchor="middle" fill="#111" color="#111">24h</text>
<text transform="translate(4.10,378.50) rotate(-90)" font-size="8" text-anchor="middle" fill="#111" color="#111">Relative expression</text>
<text transform="translate(14.30,378.50) rotate(-90)" font-size="8" text-anchor="middle" fill="#111" color="#111">SARS-CoV-2 genome</text>
<line x1="76.10" y1="347.13" x2="76.10" y2="350.78" stroke="#777" stroke-width="0.9"/>
<line x1="74.30" y1="347.13" x2="77.90" y2="347.13" stroke="#777" stroke-width="0.9"/>
<rect x="70.40" y="350.78" width="11.40" height="75.32" fill="#000000" stroke="#2a2a2a" stroke-width="0.9"/>
<line x1="90.85" y1="381.36" x2="90.85" y2="385.93" stroke="#777" stroke-width="0.9"/>
<line x1="89.05" y1="381.36" x2="92.65" y2="381.36" stroke="#777" stroke-width="0.9"/>
<rect x="84.90" y="385.93" width="11.90" height="40.17" fill="#c2c2c2" stroke="#2a2a2a" stroke-width="0.9"/>
<rect x="122.00" y="425.19" width="12.30" height="0.91" fill="#000000" stroke="#2a2a2a" stroke-width="0.9"/>
<line x1="143.00" y1="405.10" x2="143.00" y2="407.84" stroke="#777" stroke-width="0.9"/>
<line x1="141.20" y1="405.10" x2="144.80" y2="405.10" stroke="#777" stroke-width="0.9"/>
<rect x="137.00" y="407.84" width="12.00" height="18.26" fill="#c2c2c2" stroke="#2a2a2a" stroke-width="0.9"/>
<line x1="180.10" y1="422.45" x2="180.10" y2="423.82" stroke="#777" stroke-width="0.9"/>
<line x1="178.30" y1="422.45" x2="181.90" y2="422.45" stroke="#777" stroke-width="0.9"/>
<rect x="173.70" y="423.82" width="12.80" height="2.28" fill="#000000" stroke="#2a2a2a" stroke-width="0.9"/>
<line x1="195.10" y1="414.23" x2="195.10" y2="414.69" stroke="#777" stroke-width="0.9"/>
<line x1="193.30" y1="414.23" x2="196.90" y2="414.23" stroke="#777" stroke-width="0.9"/>
<rect x="188.70" y="414.69" width="12.80" height="11.41" fill="#c2c2c2" stroke="#2a2a2a" stroke-width="0.9"/>
<line x1="57.30" y1="334.40" x2="57.30" y2="426.10" stroke="#666" stroke-width="1.1"/>
<line x1="55.10" y1="426.10" x2="213.90" y2="426.10" stroke="#333" stroke-width="1.1"/>
<text x="50.80" y="428.98" font-size="8" text-anchor="end" fill="#111" color="#111">0,0E+00</text>
<line x1="55.10" y1="403.28" x2="57.30" y2="403.28" stroke="#666" stroke-width="1"/>
<text x="50.80" y="406.16" font-size="8" text-anchor="end" fill="#111" color="#111">5,0E+05</text>
<line x1="55.10" y1="380.45" x2="57.30" y2="380.45" stroke="#666" stroke-width="1"/>
<text x="50.80" y="383.33" font-size="8" text-anchor="end" fill="#111" color="#111">1,0E+06</text>
<line x1="55.10" y1="357.62" x2="57.30" y2="357.62" stroke="#666" stroke-width="1"/>
<text x="50.80" y="360.50" font-size="8" text-anchor="end" fill="#111" color="#111">1,5E+06</text>
<line x1="55.10" y1="334.80" x2="57.30" y2="334.80" stroke="#666" stroke-width="1"/>
<text x="50.80" y="337.68" font-size="8" text-anchor="end" fill="#111" color="#111">2,0E+06</text>
<rect x="163.20" y="329.00" width="4.50" height="4.50" fill="#000000" stroke="#222" stroke-width="0.6"/>
<text x="168.60" y="334.00" font-size="8" fill="#111" color="#111">control</text>
<rect x="163.20" y="343.00" width="4.50" height="4.50" fill="#c2c2c2" stroke="#222" stroke-width="0.6"/>
<text x="168.60" y="348.00" font-size="8" fill="#111" color="#111">STING KO</text>
<line x1="122.20" y1="399.40" x2="149.80" y2="399.40" stroke="#555" stroke-width="1"/>
<text x="131.80" y="398.30" font-size="9.5" fill="#111" color="#111">**</text>
<line x1="173.30" y1="407.30" x2="200.80" y2="407.30" stroke="#555" stroke-width="1"/>
<text x="183.60" y="406.40" font-size="9.5" fill="#111" color="#111">**</text>
<text x="82.60" y="438.80" font-size="8" text-anchor="middle" fill="#111" color="#111">NHT</text>
<text x="134.50" y="438.80" font-size="8" text-anchor="middle" fill="#111" color="#111">USP22 KO #1</text>
<text x="187.30" y="438.80" font-size="8" text-anchor="middle" fill="#111" color="#111">USP22 KO #6</text>
<rect x="463.40" y="242.52" width="10.50" height="2.78" fill="#000000" stroke="#2a2a2a" stroke-width="0.9"/>
<line x1="481.90" y1="240.85" x2="481.90" y2="241.27" stroke="#777" stroke-width="0.9"/>
<line x1="480.10" y1="240.85" x2="483.70" y2="240.85" stroke="#777" stroke-width="0.9"/>
<rect x="476.20" y="241.27" width="11.40" height="4.03" fill="#a0a0a0" stroke="#2a2a2a" stroke-width="0.9"/>
<line x1="515.55" y1="212.50" x2="515.55" y2="221.39" stroke="#777" stroke-width="0.9"/>
<line x1="513.75" y1="212.50" x2="517.35" y2="212.50" stroke="#777" stroke-width="0.9"/>
<rect x="510.10" y="221.39" width="10.90" height="23.91" fill="#000000" stroke="#2a2a2a" stroke-width="0.9"/>
<line x1="529.00" y1="241.69" x2="529.00" y2="242.52" stroke="#777" stroke-width="0.9"/>
<line x1="527.20" y1="241.69" x2="530.80" y2="241.69" stroke="#777" stroke-width="0.9"/>
<rect x="523.30" y="242.52" width="11.40" height="2.78" fill="#a0a0a0" stroke="#2a2a2a" stroke-width="0.9"/>
<line x1="451.70" y1="203.20" x2="451.70" y2="245.30" stroke="#999" stroke-width="1.5"/>
<line x1="449.50" y1="245.30" x2="545.30" y2="245.30" stroke="#333" stroke-width="1.1"/>
<text x="444.90" y="248.18" font-size="8" text-anchor="end" fill="#111" color="#111">0</text>
<line x1="449.50" y1="231.40" x2="451.70" y2="231.40" stroke="#333" stroke-width="1"/>
<text x="444.90" y="234.28" font-size="8" text-anchor="end" fill="#111" color="#111">5</text>
<line x1="449.50" y1="217.50" x2="451.70" y2="217.50" stroke="#333" stroke-width="1"/>
<text x="444.90" y="220.38" font-size="8" text-anchor="end" fill="#111" color="#111">10</text>
<line x1="449.50" y1="203.60" x2="451.70" y2="203.60" stroke="#333" stroke-width="1"/>
<text x="444.90" y="206.48" font-size="8" text-anchor="end" fill="#111" color="#111">15</text>
<text x="479.00" y="192.00" font-size="9" text-anchor="middle" fill="#111" color="#111">IFNL1</text>
<text transform="translate(423.60,223.90) rotate(-90)" font-size="8" text-anchor="middle" fill="#111" color="#111">fold change mRNA</text>
<text transform="translate(432.90,223.90) rotate(-90)" font-size="8" text-anchor="middle" fill="#111" color="#111">normalized to NHT</text>
<rect x="456.00" y="203.20" width="4.40" height="4.40" fill="#000000" stroke="#222" stroke-width="0.6"/>
<text x="461.90" y="207.90" font-size="8" fill="#111" color="#111">STING WT</text>
<rect x="456.00" y="213.50" width="4.40" height="4.40" fill="#a0a0a0" stroke="#222" stroke-width="0.6"/>
<text x="461.90" y="218.10" font-size="8" fill="#111" color="#111">STING KO</text>
<text x="475.50" y="256.60" font-size="8" text-anchor="middle" fill="#111" color="#111">NHT</text>
<text x="522.40" y="256.60" font-size="8" text-anchor="middle" fill="#111" color="#111">USP22 KO</text>
<text x="522.40" y="266.20" font-size="8" text-anchor="middle" fill="#111" color="#111">#6</text>
<text x="528.70" y="239.90" font-size="8.5" text-anchor="middle" fill="#111" color="#111">*</text>
<rect x="602.70" y="243.22" width="10.50" height="2.09" fill="#000000" stroke="#2a2a2a" stroke-width="0.9"/>
<rect x="615.50" y="242.59" width="11.40" height="2.71" fill="#a0a0a0" stroke="#2a2a2a" stroke-width="0.9"/>
<line x1="654.85" y1="210.69" x2="654.85" y2="220.28" stroke="#777" stroke-width="0.9"/>
<line x1="653.05" y1="210.69" x2="656.65" y2="210.69" stroke="#777" stroke-width="0.9"/>
<rect x="649.40" y="220.28" width="10.90" height="25.02" fill="#000000" stroke="#2a2a2a" stroke-width="0.9"/>
<line x1="668.30" y1="240.71" x2="668.30" y2="241.13" stroke="#777" stroke-width="0.9"/>
<line x1="666.50" y1="240.71" x2="670.10" y2="240.71" stroke="#777" stroke-width="0.9"/>
<rect x="662.60" y="241.13" width="11.40" height="4.17" fill="#a0a0a0" stroke="#2a2a2a" stroke-width="0.9"/>
<line x1="591.00" y1="203.20" x2="591.00" y2="245.30" stroke="#999" stroke-width="1.5"/>
<line x1="588.80" y1="245.30" x2="685.50" y2="245.30" stroke="#333" stroke-width="1.1"/>
<text x="584.20" y="248.18" font-size="8" text-anchor="end" fill="#111" color="#111">0</text>
<line x1="588.80" y1="234.88" x2="591.00" y2="234.88" stroke="#333" stroke-width="1"/>
<text x="584.20" y="237.75" font-size="8" text-anchor="end" fill="#111" color="#111">5</text>
<line x1="588.80" y1="224.45" x2="591.00" y2="224.45" stroke="#333" stroke-width="1"/>
<text x="584.20" y="227.33" font-size="8" text-anchor="end" fill="#111" color="#111">10</text>
<line x1="588.80" y1="214.03" x2="591.00" y2="214.03" stroke="#333" stroke-width="1"/>
<text x="584.20" y="216.91" font-size="8" text-anchor="end" fill="#111" color="#111">15</text>
<line x1="588.80" y1="203.60" x2="591.00" y2="203.60" stroke="#333" stroke-width="1"/>
<text x="584.20" y="206.48" font-size="8" text-anchor="end" fill="#111" color="#111">20</text>
<text x="618.60" y="191.50" font-size="9" text-anchor="middle" fill="#111" color="#111">IRF9</text>
<text transform="translate(563.30,229.30) rotate(-90)" font-size="8" text-anchor="middle" fill="#111" color="#111">fold change mRNA</text>
<text transform="translate(572.60,229.30) rotate(-90)" font-size="8" text-anchor="middle" fill="#111" color="#111">normalized to NHT</text>
<rect x="595.30" y="203.20" width="4.40" height="4.40" fill="#000000" stroke="#222" stroke-width="0.6"/>
<text x="601.20" y="207.90" font-size="8" fill="#111" color="#111">STING WT</text>
<rect x="595.30" y="213.50" width="4.40" height="4.40" fill="#a0a0a0" stroke="#222" stroke-width="0.6"/>
<text x="601.20" y="218.10" font-size="8" fill="#111" color="#111">STING KO</text>
<text x="614.80" y="256.60" font-size="8" text-anchor="middle" fill="#111" color="#111">NHT</text>
<text x="661.70" y="256.60" font-size="8" text-anchor="middle" fill="#111" color="#111">USP22 KO</text>
<text x="661.70" y="266.20" font-size="8" text-anchor="middle" fill="#111" color="#111">#6</text>
<text x="668.50" y="238.60" font-size="8.5" text-anchor="middle" fill="#111" color="#111">*</text>
<rect x="463.40" y="332.95" width="10.50" height="10.35" fill="#000000" stroke="#2a2a2a" stroke-width="0.9"/>
<rect x="476.20" y="332.95" width="11.40" height="10.35" fill="#a0a0a0" stroke="#2a2a2a" stroke-width="0.9"/>
<line x1="515.55" y1="309.66" x2="515.55" y2="317.94" stroke="#777" stroke-width="0.9"/>
<line x1="513.75" y1="309.66" x2="517.35" y2="309.66" stroke="#777" stroke-width="0.9"/>
<rect x="510.10" y="317.94" width="10.90" height="25.36" fill="#000000" stroke="#2a2a2a" stroke-width="0.9"/>
<line x1="529.00" y1="319.50" x2="529.00" y2="324.67" stroke="#777" stroke-width="0.9"/>
<line x1="527.20" y1="319.50" x2="530.80" y2="319.50" stroke="#777" stroke-width="0.9"/>
<rect x="523.30" y="324.67" width="11.40" height="18.63" fill="#a0a0a0" stroke="#2a2a2a" stroke-width="0.9"/>
<line x1="451.70" y1="301.50" x2="451.70" y2="343.30" stroke="#999" stroke-width="1.5"/>
<line x1="449.50" y1="343.30" x2="545.30" y2="343.30" stroke="#333" stroke-width="1.1"/>
<text x="444.90" y="346.18" font-size="8" text-anchor="end" fill="#111" color="#111">0</text>
<line x1="449.50" y1="332.95" x2="451.70" y2="332.95" stroke="#333" stroke-width="1"/>
<text x="444.90" y="335.83" font-size="8" text-anchor="end" fill="#111" color="#111">1</text>
<line x1="449.50" y1="322.60" x2="451.70" y2="322.60" stroke="#333" stroke-width="1"/>
<text x="444.90" y="325.48" font-size="8" text-anchor="end" fill="#111" color="#111">2</text>
<line x1="449.50" y1="312.25" x2="451.70" y2="312.25" stroke="#333" stroke-width="1"/>
<text x="444.90" y="315.13" font-size="8" text-anchor="end" fill="#111" color="#111">3</text>
<line x1="449.50" y1="301.90" x2="451.70" y2="301.90" stroke="#333" stroke-width="1"/>
<text x="444.90" y="304.78" font-size="8" text-anchor="end" fill="#111" color="#111">4</text>
<text x="479.00" y="290.90" font-size="9" text-anchor="middle" fill="#111" color="#111">IFNB1</text>
<text transform="translate(423.60,318.60) rotate(-90)" font-size="8" text-anchor="middle" fill="#111" color="#111">fold change mRNA</text>
<text transform="translate(432.90,318.60) rotate(-90)" font-size="8" text-anchor="middle" fill="#111" color="#111">normalized to NHT</text>
<rect x="456.00" y="301.50" width="4.40" height="4.40" fill="#000000" stroke="#222" stroke-width="0.6"/>
<text x="461.90" y="306.20" font-size="8" fill="#111" color="#111">STING WT</text>
<rect x="456.00" y="311.80" width="4.40" height="4.40" fill="#a0a0a0" stroke="#222" stroke-width="0.6"/>
<text x="461.90" y="316.40" font-size="8" fill="#111" color="#111">STING KO</text>
<text x="475.50" y="354.60" font-size="8" text-anchor="middle" fill="#111" color="#111">NHT</text>
<text x="522.40" y="354.60" font-size="8" text-anchor="middle" fill="#111" color="#111">USP22 KO</text>
<text x="522.40" y="364.20" font-size="8" text-anchor="middle" fill="#111" color="#111">#6</text>
<rect x="602.70" y="332.95" width="10.50" height="10.35" fill="#000000" stroke="#2a2a2a" stroke-width="0.9"/>
<line x1="621.20" y1="330.36" x2="621.20" y2="330.88" stroke="#777" stroke-width="0.9"/>
<line x1="619.40" y1="330.36" x2="623.00" y2="330.36" stroke="#777" stroke-width="0.9"/>
<rect x="615.50" y="330.88" width="11.40" height="12.42" fill="#a0a0a0" stroke="#2a2a2a" stroke-width="0.9"/>
<line x1="654.85" y1="305.52" x2="654.85" y2="314.84" stroke="#777" stroke-width="0.9"/>
<line x1="653.05" y1="305.52" x2="656.65" y2="305.52" stroke="#777" stroke-width="0.9"/>
<rect x="649.40" y="314.84" width="10.90" height="28.46" fill="#000000" stroke="#2a2a2a" stroke-width="0.9"/>
<line x1="668.30" y1="328.81" x2="668.30" y2="331.40" stroke="#777" stroke-width="0.9"/>
<line x1="666.50" y1="328.81" x2="670.10" y2="328.81" stroke="#777" stroke-width="0.9"/>
<rect x="662.60" y="331.40" width="11.40" height="11.90" fill="#a0a0a0" stroke="#2a2a2a" stroke-width="0.9"/>
<line x1="591.00" y1="301.50" x2="591.00" y2="343.30" stroke="#999" stroke-width="1.5"/>
<line x1="588.80" y1="343.30" x2="685.50" y2="343.30" stroke="#333" stroke-width="1.1"/>
<text x="584.20" y="346.18" font-size="8" text-anchor="end" fill="#111" color="#111">0</text>
<line x1="588.80" y1="332.95" x2="591.00" y2="332.95" stroke="#333" stroke-width="1"/>
<text x="584.20" y="335.83" font-size="8" text-anchor="end" fill="#111" color="#111">1</text>
<line x1="588.80" y1="322.60" x2="591.00" y2="322.60" stroke="#333" stroke-width="1"/>
<text x="584.20" y="325.48" font-size="8" text-anchor="end" fill="#111" color="#111">2</text>
<line x1="588.80" y1="312.25" x2="591.00" y2="312.25" stroke="#333" stroke-width="1"/>
<text x="584.20" y="315.13" font-size="8" text-anchor="end" fill="#111" color="#111">3</text>
<line x1="588.80" y1="301.90" x2="591.00" y2="301.90" stroke="#333" stroke-width="1"/>
<text x="584.20" y="304.78" font-size="8" text-anchor="end" fill="#111" color="#111">4</text>
<text x="619.00" y="290.90" font-size="9" text-anchor="middle" fill="#111" color="#111">OAS3</text>
<text transform="translate(562.10,328.00) rotate(-90)" font-size="8" text-anchor="middle" fill="#111" color="#111">fold change mRNA</text>
<text transform="translate(571.90,328.00) rotate(-90)" font-size="8" text-anchor="middle" fill="#111" color="#111">normalized to NHT</text>
<rect x="595.30" y="301.50" width="4.40" height="4.40" fill="#000000" stroke="#222" stroke-width="0.6"/>
<text x="601.20" y="306.20" font-size="8" fill="#111" color="#111">STING WT</text>
<rect x="595.30" y="311.80" width="4.40" height="4.40" fill="#a0a0a0" stroke="#222" stroke-width="0.6"/>
<text x="601.20" y="316.40" font-size="8" fill="#111" color="#111">STING KO</text>
<text x="614.80" y="354.60" font-size="8" text-anchor="middle" fill="#111" color="#111">NHT</text>
<text x="661.70" y="354.60" font-size="8" text-anchor="middle" fill="#111" color="#111">USP22 KO</text>
<text x="661.70" y="364.20" font-size="8" text-anchor="middle" fill="#111" color="#111">#6</text>
<rect x="463.20" y="431.70" width="10.50" height="10.40" fill="#000000" stroke="#2a2a2a" stroke-width="0.9"/>
<line x1="481.70" y1="423.38" x2="481.70" y2="430.66" stroke="#777" stroke-width="0.9"/>
<line x1="479.90" y1="423.38" x2="483.50" y2="423.38" stroke="#777" stroke-width="0.9"/>
<rect x="476.00" y="430.66" width="11.40" height="11.44" fill="#a0a0a0" stroke="#2a2a2a" stroke-width="0.9"/>
<line x1="515.35" y1="407.26" x2="515.35" y2="421.82" stroke="#777" stroke-width="0.9"/>
<line x1="513.55" y1="407.26" x2="517.15" y2="407.26" stroke="#777" stroke-width="0.9"/>
<rect x="509.90" y="421.82" width="10.90" height="20.28" fill="#000000" stroke="#2a2a2a" stroke-width="0.9"/>
<line x1="528.80" y1="409.34" x2="528.80" y2="421.82" stroke="#777" stroke-width="0.9"/>
<line x1="527.00" y1="409.34" x2="530.60" y2="409.34" stroke="#777" stroke-width="0.9"/>
<rect x="523.10" y="421.82" width="11.40" height="20.28" fill="#a0a0a0" stroke="#2a2a2a" stroke-width="0.9"/>
<line x1="451.50" y1="400.10" x2="451.50" y2="442.10" stroke="#999" stroke-width="1.5"/>
<line x1="449.30" y1="442.10" x2="545.30" y2="442.10" stroke="#333" stroke-width="1.1"/>
<text x="444.70" y="444.98" font-size="8" text-anchor="end" fill="#111" color="#111">0</text>
<line x1="449.30" y1="431.70" x2="451.50" y2="431.70" stroke="#333" stroke-width="1"/>
<text x="444.70" y="434.58" font-size="8" text-anchor="end" fill="#111" color="#111">1</text>
<line x1="449.30" y1="421.30" x2="451.50" y2="421.30" stroke="#333" stroke-width="1"/>
<text x="444.70" y="424.18" font-size="8" text-anchor="end" fill="#111" color="#111">2</text>
<line x1="449.30" y1="410.90" x2="451.50" y2="410.90" stroke="#333" stroke-width="1"/>
<text x="444.70" y="413.78" font-size="8" text-anchor="end" fill="#111" color="#111">3</text>
<line x1="449.30" y1="400.50" x2="451.50" y2="400.50" stroke="#333" stroke-width="1"/>
<text x="444.70" y="403.38" font-size="8" text-anchor="end" fill="#111" color="#111">4</text>
<text x="479.20" y="389.30" font-size="9" text-anchor="middle" fill="#111" color="#111">panIFNA</text>
<text transform="translate(424.20,416.30) rotate(-90)" font-size="8" text-anchor="middle" fill="#111" color="#111">fold change mRNA</text>
<text transform="translate(433.50,416.30) rotate(-90)" font-size="8" text-anchor="middle" fill="#111" color="#111">normalized to NHT</text>
<rect x="455.80" y="400.10" width="4.40" height="4.40" fill="#000000" stroke="#222" stroke-width="0.6"/>
<text x="461.70" y="404.80" font-size="8" fill="#111" color="#111">STING WT</text>
<rect x="455.80" y="410.40" width="4.40" height="4.40" fill="#a0a0a0" stroke="#222" stroke-width="0.6"/>
<text x="461.70" y="415.00" font-size="8" fill="#111" color="#111">STING KO</text>
<text x="475.30" y="453.40" font-size="8" text-anchor="middle" fill="#111" color="#111">NHT</text>
<text x="522.20" y="453.40" font-size="8" text-anchor="middle" fill="#111" color="#111">USP22 KO</text>
<text x="522.20" y="463.00" font-size="8" text-anchor="middle" fill="#111" color="#111">#6</text>
<rect x="601.70" y="414.40" width="10.50" height="27.60" fill="#000000" stroke="#2a2a2a" stroke-width="0.9"/>
<line x1="620.20" y1="411.09" x2="620.20" y2="413.02" stroke="#777" stroke-width="0.9"/>
<line x1="618.40" y1="411.09" x2="622.00" y2="411.09" stroke="#777" stroke-width="0.9"/>
<rect x="614.50" y="413.02" width="11.40" height="28.98" fill="#a0a0a0" stroke="#2a2a2a" stroke-width="0.9"/>
<line x1="653.85" y1="438.69" x2="653.85" y2="439.24" stroke="#777" stroke-width="0.9"/>
<line x1="652.05" y1="438.69" x2="655.65" y2="438.69" stroke="#777" stroke-width="0.9"/>
<rect x="648.40" y="439.24" width="10.90" height="2.76" fill="#000000" stroke="#2a2a2a" stroke-width="0.9"/>
<rect x="661.60" y="441.17" width="11.40" height="0.83" fill="#a0a0a0" stroke="#2a2a2a" stroke-width="0.9"/>
<line x1="590.00" y1="400.20" x2="590.00" y2="442.00" stroke="#999" stroke-width="1.5"/>
<line x1="587.80" y1="442.00" x2="685.50" y2="442.00" stroke="#333" stroke-width="1.1"/>
<text x="583.20" y="444.88" font-size="8" text-anchor="end" fill="#111" color="#111">0</text>
<line x1="587.80" y1="428.20" x2="590.00" y2="428.20" stroke="#333" stroke-width="1"/>
<text x="583.20" y="431.08" font-size="8" text-anchor="end" fill="#111" color="#111">0,5</text>
<line x1="587.80" y1="414.40" x2="590.00" y2="414.40" stroke="#333" stroke-width="1"/>
<text x="583.20" y="417.28" font-size="8" text-anchor="end" fill="#111" color="#111">1</text>
<line x1="587.80" y1="400.60" x2="590.00" y2="400.60" stroke="#333" stroke-width="1"/>
<text x="583.20" y="403.48" font-size="8" text-anchor="end" fill="#111" color="#111">1,5</text>
<text x="619.10" y="388.70" font-size="9" text-anchor="middle" fill="#111" color="#111">USP22</text>
<text transform="translate(561.00,418.40) rotate(-90)" font-size="8" text-anchor="middle" fill="#111" color="#111">fold change mRNA</text>
<text transform="translate(570.30,418.40) rotate(-90)" font-size="8" text-anchor="middle" fill="#111" color="#111">normalized to NHT</text>
<rect x="635.50" y="397.20" width="4.40" height="4.40" fill="#000000" stroke="#222" stroke-width="0.6"/>
<text x="641.40" y="401.90" font-size="8" fill="#111" color="#111">STING WT</text>
<rect x="635.50" y="407.50" width="4.40" height="4.40" fill="#a0a0a0" stroke="#222" stroke-width="0.6"/>
<text x="641.40" y="412.10" font-size="8" fill="#111" color="#111">STING KO</text>
<text x="613.80" y="453.30" font-size="8" text-anchor="middle" fill="#111" color="#111">NHT</text>
<text x="660.70" y="453.30" font-size="8" text-anchor="middle" fill="#111" color="#111">USP22 KO</text>
<text x="660.70" y="462.90" font-size="8" text-anchor="middle" fill="#111" color="#111">#6</text>
</svg>
</body></html>
